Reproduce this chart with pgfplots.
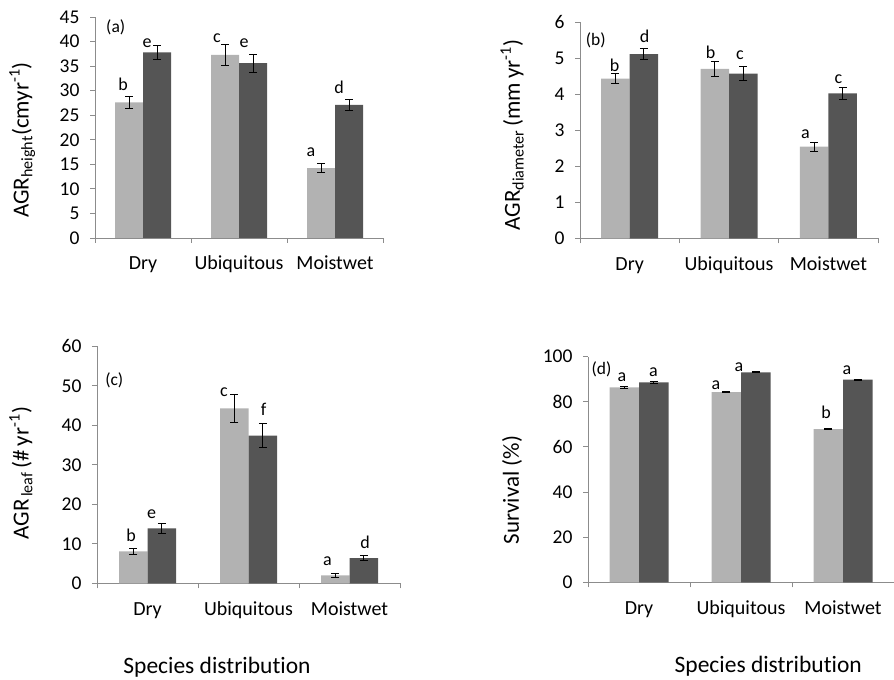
\documentclass[border=0pt]{standalone}
\usepackage{fontspec}
\setmainfont{Carlito}[Ligatures=NoCommon]
\usepackage{pgfplots}
\pgfplotsset{compat=1.18}
\usepackage{pgfplotstable}
\definecolor{lightbar}{HTML}{B2B2B2}
\definecolor{darkbar}{HTML}{555555}
\definecolor{axisgray}{HTML}{8C8C8C}
\newcommand\fs[1]{\fontsize{#1bp}{#1bp}\selectfont}

% x = category, l = light bar, le = its error, d = dark bar, de = its error
\pgfplotstableread{
x l le d de
0 27.6 1.2 37.8 1.4
1 37.3 2.1 35.6 1.8
2 14.2 0.9 27.1 1.2
}\dataA
\pgfplotstableread{
x l le d de
0 4.43 0.14 5.11 0.16
1 4.70 0.20 4.57 0.19
2 2.54 0.13 4.02 0.16
}\dataB
\pgfplotstableread{
x l le d de
0 8.1 0.7 13.9 1.2
1 44.3 3.5 37.4 3.0
2 2.0 0.6 6.4 0.7
}\dataC
\pgfplotstableread{
x l le d de
0 86.4 0.3 88.6 0.3
1 84.3 0.3 93.1 0.3
2 67.9 0.3 89.8 0.3
}\dataD

\pgfplotsset{
  panel/.style={
    scale only axis,
    ybar=0pt,
    axis x line*=bottom, axis y line*=left,
    axis line style={draw=axisgray, line width=0.9bp, -},
    xmin=-0.5, xmax=2.5, ymin=0,
    xtick={-0.5,0.5,1.5,2.5},
    xticklabels={Dry,Ubiquitous,Moistwet,{}},
    tick align=outside,
    major tick length=5bp,
    tick style={draw=axisgray, line width=0.9bp},
    /pgf/number format/assume math mode=true,
    yticklabel style={font=\fs{19.5}, text=black, xshift=-7bp},
    xticklabel style={font=\fs{20}, text=black, anchor=base, yshift=-27bp},
    clip=false,
  },
  errs/.style={error bars/.cd, y dir=both, y explicit,
    error bar style={black, line width=0.9bp},
    error mark options={rotate=90, mark size=4bp, black, line width=0.9bp}},
}
\newcommand\lab[4]{\node[anchor=base, xshift=#2bp, font=\fs{18}, inner sep=0pt] at (axis cs:#1,#3) {#4};}

\begin{document}
\begin{tikzpicture}[x=1bp,y=1bp]
\path[use as bounding box] (0,0) rectangle (894,680);

% (a)
\begin{axis}[panel, at={(95bp,442bp)}, anchor=south west,
  width=288bp, height=221bp, ymax=45, ytick distance=5,
  bar width=28bp,
  xticklabel style={xshift=48bp},
  ylabel={AGR\textsubscript{height}(cmyr\textsuperscript{-1})},
  every axis y label/.style={at={(axis description cs:-0.253,0.443)}, rotate=90, anchor=center, font=\fs{23}}]
\addplot[fill=lightbar, draw=none, errs] table[x=x, y=l, y error=le] {\dataA};
\addplot[fill=darkbar, draw=none, errs] table[x=x, y=d, y error=de] {\dataA};
\node[anchor=base, font=\fs{17.5}] at (axis description cs:0.072,0.930) {(a)};
\lab{0}{-20}{30.0}{b}
\lab{0}{4}{38.8}{e}
\lab{1}{-22}{39.8}{c}
\lab{1}{5}{38.8}{e}
\lab{2}{-24}{16.6}{a}
\lab{2}{4}{29.5}{d}
\end{axis}

% (b)
\begin{axis}[panel, at={(580bp,441.7bp)}, anchor=south west,
  width=298bp, height=216.3bp, ymax=6, ytick distance=1,
  bar width=28.5bp,
  xticklabel style={xshift=49.7bp},
  ylabel={AGR\textsubscript{diameter}\,(mm\,yr\textsuperscript{-1})},
  every axis y label/.style={at={(axis description cs:-0.228,0.477)}, rotate=90, anchor=center, font=\fs{23}}]
\addplot[fill=lightbar, draw=none, errs] table[x=x, y=l, y error=le] {\dataB};
\addplot[fill=darkbar, draw=none, errs] table[x=x, y=d, y error=de] {\dataB};
\node[anchor=base, font=\fs{17.5}] at (axis description cs:0.053,0.889) {(b)};
\lab{0}{-15}{4.62}{b}
\lab{0}{15}{5.43}{d}
\lab{1}{-18.5}{4.99}{b}
\lab{1}{11}{4.95}{c}
\lab{2}{-23}{2.77}{a}
\lab{2}{10}{4.30}{c}
\end{axis}

% (c)
\begin{axis}[panel, at={(97bp,96.7bp)}, anchor=south west,
  width=303bp, height=237bp, ymax=60, ytick distance=10,
  bar width=28.5bp,
  xticklabel style={xshift=50.5bp},
  ylabel={AGR\textsubscript{\,leaf}\,(\#\,yr\textsuperscript{-1})},
  every axis y label/.style={at={(axis description cs:-0.251,0.464)}, rotate=90, anchor=center, font=\fs{23}},
  xlabel={Species distribution},
  every axis x label/.style={at={(axis description cs:0.396,-0.380)}, anchor=base, font=\fs{23.5}}]
\addplot[fill=lightbar, draw=none, errs] table[x=x, y=l, y error=le] {\dataC};
\addplot[fill=darkbar, draw=none, errs] table[x=x, y=d, y error=de] {\dataC};
\node[anchor=base, font=\fs{17.5}] at (axis description cs:0.057,0.835) {(c)};
\lab{0}{-16.5}{10.7}{b}
\lab{0}{4}{16.3}{e}
\lab{1}{-24.5}{47.4}{c}
\lab{1}{15}{42.4}{f}
\lab{2}{-22}{4.4}{a}
\lab{2}{15.5}{8.9}{d}
\end{axis}

% (d)
\begin{axis}[panel, at={(588bp,97.7bp)}, anchor=south west,
  width=306bp, height=225.6bp, ymax=100, ytick distance=20,
  bar width=29.5bp,
  xticklabel style={xshift=51bp},
  ylabel={Survival (\%)},
  every axis y label/.style={at={(axis description cs:-0.248,0.409)}, rotate=90, anchor=center, font=\fs{23}},
  xlabel={Species distribution},
  every axis x label/.style={at={(axis description cs:0.589,-0.399)}, anchor=base, font=\fs{23.5}}]
\addplot[fill=lightbar, draw=none, errs] table[x=x, y=l, y error=le] {\dataD};
\addplot[fill=darkbar, draw=none, errs] table[x=x, y=d, y error=de] {\dataD};
\node[anchor=base, font=\fs{17.5}] at (axis description cs:0.044,0.920) {(d)};
\lab{0}{-17}{88.9}{a}
\lab{0}{14.5}{91.4}{a}
\lab{1}{-25}{85.6}{a}
\lab{1}{-2}{93.6}{a}
\lab{2}{-17}{72.4}{b}
\lab{2}{4}{92.1}{a}
\end{axis}
\end{tikzpicture}
\end{document}
